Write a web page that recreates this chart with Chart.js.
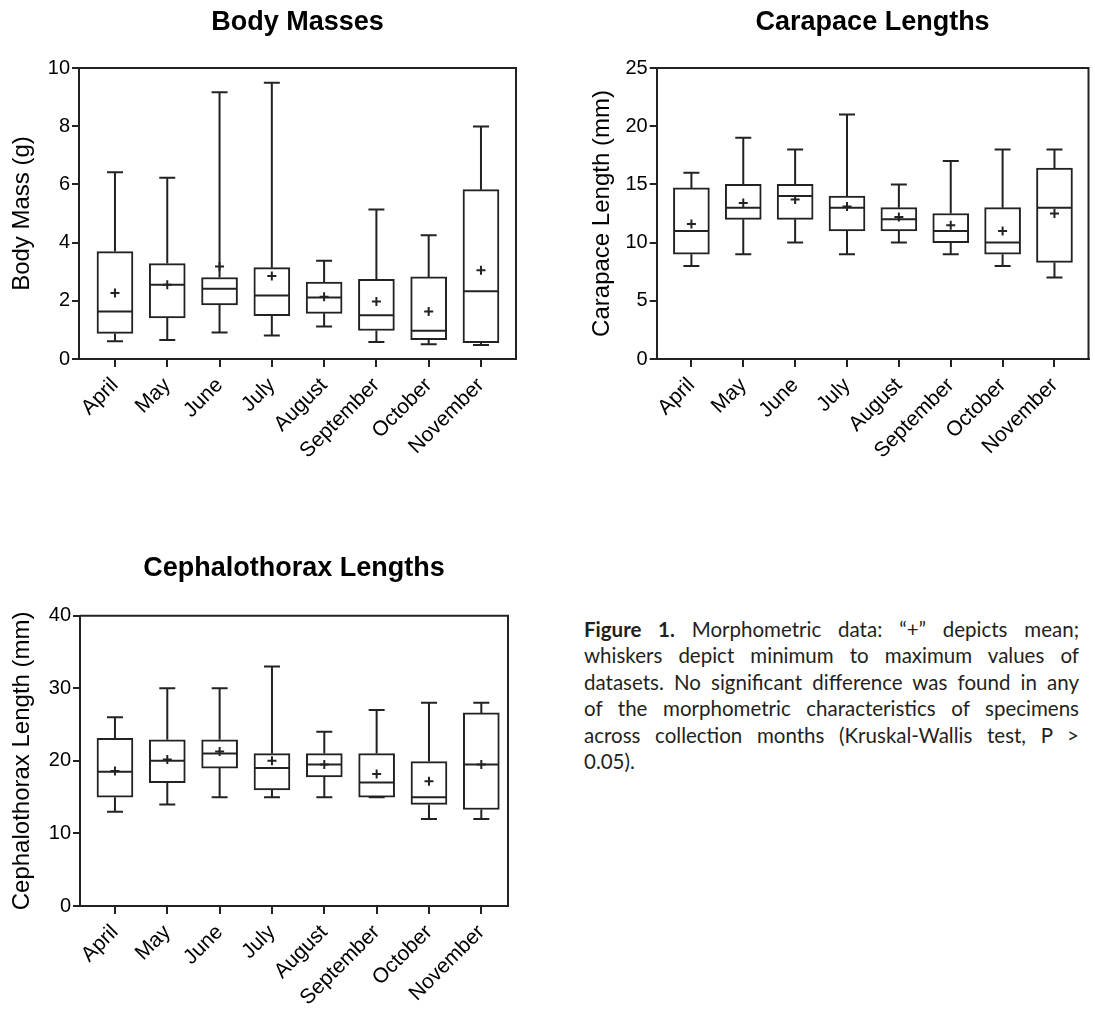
<!DOCTYPE html>
<html>
<head>
<meta charset="utf-8">
<script src="https://cdn.jsdelivr.net/npm/chart.js@4"></script>
<style>
  html, body { margin:0; padding:0; background:#fff; width:1095px; height:1009px; overflow:hidden; }
  canvas { position:absolute; }
  #cap { position:absolute; left:584px; top:616px; width:495px; font-family:Lato, "Open Sans", sans-serif; font-size:20.5px; line-height:26.4px; color:#231f20; }
  #cap div { text-align:justify; text-align-last:justify; white-space:nowrap; }
  #cap div.last { text-align-last:left; }
</style>
</head>
<body>
<canvas id="c1" width="545" height="480" style="left:0;top:0;width:545px;height:480px"></canvas>
<canvas id="c2" width="525" height="480" style="left:570px;top:0;width:525px;height:480px"></canvas>
<canvas id="c3" width="538" height="487" style="left:0;top:540px;width:538px;height:487px"></canvas>
<div id="cap">
  <div><b>Figure 1.</b> Morphometric data: “+” depicts mean;</div>
  <div>whiskers depict minimum to maximum values of</div>
  <div>datasets. No significant difference was found in any</div>
  <div>of the morphometric characteristics of specimens</div>
  <div>across collection months (Kruskal-Wallis test, P &gt;</div>
  <div class="last">0.05).</div>
</div>
<script>
const months = ['April','May','June','July','August','September','October','November'];

// Body Masses (g)
const bmMin  = [0.61, 0.65, 0.91, 0.81, 1.12, 0.58, 0.51, 0.48];
const bmQ1   = [0.88, 1.41, 1.86, 1.49, 1.57, 0.98, 0.66, 0.56];
const bmMed  = [1.63, 2.55, 2.41, 2.18, 2.11, 1.50, 0.97, 2.33];
const bmQ3   = [3.69, 3.28, 2.80, 3.14, 2.64, 2.74, 2.82, 5.82];
const bmMax  = [6.42, 6.23, 9.17, 9.49, 3.38, 5.14, 4.25, 7.99];
const bmMean = [2.27, 2.55, 3.18, 2.85, 2.14, 1.98, 1.63, 3.05];

// Carapace Lengths (mm)
const clMin  = [8, 9, 10, 9, 10, 9, 8, 7];
const clQ1   = [9, 12, 12, 11, 11, 10, 9, 8.3];
const clMed  = [11, 13, 14, 13, 12, 11, 10, 13];
const clQ3   = [14.7, 15, 15, 14, 13, 12.5, 13, 16.4];
const clMax  = [16, 19, 18, 21, 15, 17, 18, 18];
const clMean = [11.6, 13.4, 13.7, 13.1, 12.2, 11.5, 11.0, 12.5];

// Cephalothorax Lengths (mm)
const ctMin  = [13, 14, 15, 15, 15, 15, 12, 12];
const ctQ1   = [15, 17, 19, 16, 17.8, 15, 14, 13.3];
const ctMed  = [18.5, 20, 21, 19, 19.5, 17, 15, 19.5];
const ctQ3   = [23.1, 22.9, 22.9, 21, 21, 21, 19.9, 26.6];
const ctMax  = [26, 30, 30, 33, 24, 27, 28, 28];
const ctMean = [18.6, 20.2, 21.3, 20, 19.5, 18.2, 17.2, 19.5];

const INK = '#222';
const FONT = "'Liberation Sans', Arial, sans-serif";

const boxExtras = {
  id: 'boxExtras',
  afterDatasetsDraw(chart, args, opts) {
    const {ctx, scales:{x, y}, chartArea:a} = chart;
    ctx.save();
    ctx.strokeStyle = INK;
    ctx.lineWidth = 2;
    ctx.lineCap = 'butt';
    // frame top/right
    ctx.beginPath();
    ctx.moveTo(a.left, a.top); ctx.lineTo(a.right, a.top); ctx.lineTo(a.right, a.bottom);
    ctx.stroke();
    const cap = 8, half = 17;
    for (let i = 0; i < opts.min.length; i++) {
      const px = x.getPixelForValue(i);
      const yMin = y.getPixelForValue(opts.min[i]);
      const yMax = y.getPixelForValue(opts.max[i]);
      const yQ1 = y.getPixelForValue(opts.q1[i]);
      const yQ3 = y.getPixelForValue(opts.q3[i]);
      const yMed = y.getPixelForValue(opts.med[i]);
      ctx.beginPath();
      ctx.moveTo(px, yQ3); ctx.lineTo(px, yMax);
      ctx.moveTo(px - cap, yMax); ctx.lineTo(px + cap, yMax);
      ctx.moveTo(px, yQ1); ctx.lineTo(px, yMin);
      ctx.moveTo(px - cap, yMin); ctx.lineTo(px + cap, yMin);
      ctx.moveTo(px - half, yMed); ctx.lineTo(px + half, yMed);
      ctx.stroke();
    }
    ctx.restore();
  }
};

function makeChart(id, cfg) {
  const {title, yTitle, yMax, yStep, xMin, xMax, padL, padR, yW, titleTop, titleBottom,
         mn, q1, med, q3, mx, mean} = cfg;
  return new Chart(document.getElementById(id), {
    type: 'bar',
    data: {
      datasets: [
        {
          type: 'scatter',
          data: mean.map((v, i) => ({x: i, y: v})),
          pointStyle: 'cross',
          pointRadius: 4.5,
          pointBorderWidth: 2,
          borderColor: INK,
          backgroundColor: INK
        },
        {
          type: 'bar',
          data: q1.map((v, i) => ({x: i, y: [v, q3[i]]})),
          backgroundColor: '#fff',
          borderColor: INK,
          borderWidth: 2,
          borderSkipped: false,
          barThickness: 36
        }
      ]
    },
    options: {
      responsive: false,
      animation: false,
      devicePixelRatio: 1,
      layout: { padding: { left: padL, right: padR, top: 0, bottom: 1 } },
      plugins: {
        legend: { display: false },
        tooltip: { enabled: false },
        title: {
          display: true, text: title, fullSize: false, color: '#000',
          font: { family: FONT, size: 27, weight: 'bold' },
          padding: { top: titleTop, bottom: titleBottom }
        },
        boxExtras: { min: mn, q1: q1, med: med, q3: q3, max: mx }
      },
      scales: {
        x: {
          type: 'linear',
          offset: false,
          min: xMin, max: xMax,
          afterBuildTicks: s => { s.ticks = months.map((m, i) => ({value: i})); },
          afterFit: s => { s.height = 120; },
          border: { display: true, color: INK, width: 2 },
          grid: { offset: false, drawOnChartArea: false, drawTicks: true, tickLength: 8, color: INK, lineWidth: 2 },
          ticks: {
            autoSkip: false, minRotation: 45, maxRotation: 45, padding: 6,
            color: '#000', font: { family: FONT, size: 21 },
            callback: v => months[v]
          }
        },
        y: {
          type: 'linear',
          min: 0, max: yMax,
          afterFit: s => { s.width = yW; },
          border: { display: true, color: INK, width: 2 },
          grid: { drawOnChartArea: false, drawTicks: true, tickLength: 7, color: INK, lineWidth: 2 },
          ticks: { stepSize: yStep, padding: 2, color: '#000', font: { family: FONT, size: 20 } },
          title: { display: true, text: yTitle, color: '#000', font: { family: FONT, size: 24 }, padding: { top: 1, bottom: 0 } }
        }
      }
    },
    plugins: [boxExtras]
  });
}

makeChart('c1', {
  title: 'Body Masses', yTitle: 'Body Mass (g)', yMax: 10, yStep: 2,
  xMin: -0.688, xMax: 7.67, padL: 7, padR: 29, yW: 72, titleTop: 6, titleBottom: 29.6,
  mn: bmMin, q1: bmQ1, med: bmMed, q3: bmQ3, mx: bmMax, mean: bmMean
});
makeChart('c2', {
  title: 'Carapace Lengths', yTitle: 'Carapace Length (mm)', yMax: 25, yStep: 5,
  xMin: -0.669, xMax: 7.656, padL: 16.5, padR: 3, yW: 70.2, titleTop: 6, titleBottom: 29.6,
  mn: clMin, q1: clQ1, med: clMed, q3: clQ3, mx: clMax, mean: clMean
});
makeChart('c3', {
  title: 'Cephalothorax Lengths', yTitle: 'Cephalothorax Length (mm)', yMax: 40, yStep: 10,
  xMin: -0.668, xMax: 7.51, padL: 6.5, padR: 30, yW: 73.5, titleTop: 12, titleBottom: 31.3,
  mn: ctMin, q1: ctQ1, med: ctMed, q3: ctQ3, mx: ctMax, mean: ctMean
});
</script>
</body>
</html>
